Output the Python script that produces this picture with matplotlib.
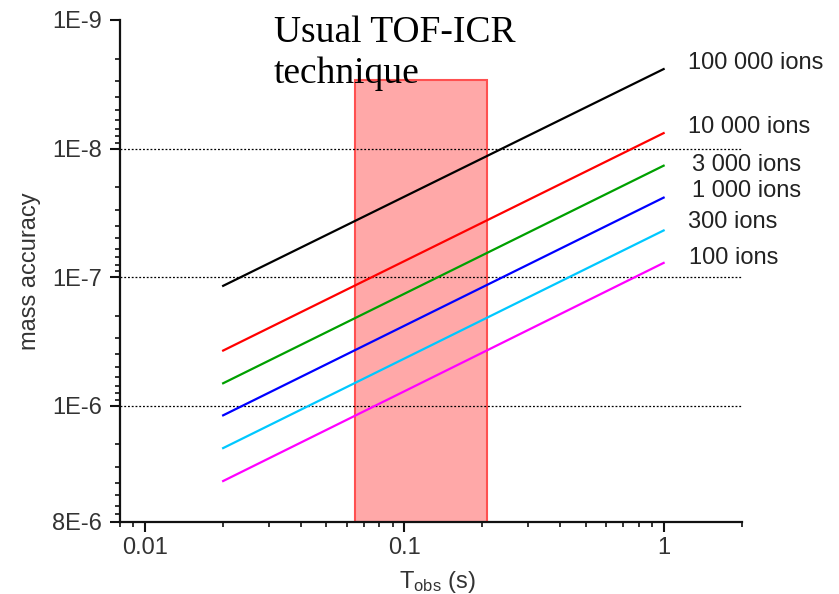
import matplotlib
matplotlib.use("Agg")
import matplotlib.pyplot as plt
from matplotlib.patches import Rectangle
from matplotlib.ticker import LogLocator, FixedLocator, FixedFormatter, NullFormatter

plt.rcParams['font.family'] = ['Liberation Sans', 'DejaVu Sans']
plt.rcParams['mathtext.default'] = 'regular'

# data: accuracy at T = 0.02 s and T = 1 s
t_obs = [0.02, 1.0]
ion_labels = ["100 000 ions", "10 000 ions", "3 000 ions", "1 000 ions", "300 ions", "100 ions"]
colors = ["black", "#ff0000", "#00a000", "#0000ff", "#00c8ff", "#ff00ff"]
acc_start = [1.17e-7, 3.73e-7, 6.7e-7, 1.19e-6, 2.14e-6, 3.86e-6]
acc_end = [2.41e-9, 7.59e-9, 1.36e-8, 2.41e-8, 4.34e-8, 7.76e-8]
label_y = [2.16e-9, 6.78e-9, 1.34e-8, 2.13e-8, 3.72e-8, 7.06e-8]
label_x = [1.243, 1.243, 1.288, 1.288, 1.243, 1.25]

# usual TOF-ICR window
tof_x = (0.0643, 0.2086)
tof_top = 2.92e-9

y_ticks = [1e-9, 1e-8, 1e-7, 1e-6, 8e-6]
y_ticklabels = ["1E-9", "1E-8", "1E-7", "1E-6", "8E-6"]
grid_y = [1e-8, 1e-7, 1e-6]

fig = plt.figure(figsize=(8.39, 5.94), dpi=100)
ax = fig.add_axes([0.143, 0.1217, 0.741, 0.8447])

ax.set_xscale("log")
ax.set_yscale("log")
ax.set_xlim(0.008, 2.0)
ax.set_ylim(8e-6, 1e-9)

ax.add_patch(Rectangle((tof_x[0], tof_top), tof_x[1] - tof_x[0], 8e-6 - tof_top,
                       facecolor="#ffa8a8", edgecolor="#ff5050", linewidth=1.5, zorder=1))

for gy in grid_y:
    ax.axhline(gy, color="black", linestyle=(0, (1.5, 1.5)), linewidth=0.9, zorder=2)

for i in range(len(ion_labels)):
    ax.plot(t_obs, [acc_start[i], acc_end[i]], color=colors[i], linewidth=1.6, zorder=3)
    ax.text(label_x[i], label_y[i], ion_labels[i], fontsize=17, ha="left", va="center",
            color="#222222", clip_on=False)

serif = ["Liberation Serif", "DejaVu Serif"]
ax.text(0.0314, 1.48e-9, "Usual TOF-ICR", family=serif, fontsize=27,
        ha="left", va="baseline", color="black", zorder=4)
ax.text(0.0314, 3.09e-9, "technique", family=serif, fontsize=27,
        ha="left", va="baseline", color="black", zorder=4)

ax.yaxis.set_major_locator(FixedLocator(y_ticks))
ax.yaxis.set_major_formatter(FixedFormatter(y_ticklabels))
ax.yaxis.set_minor_locator(LogLocator(base=10, subs=range(2, 10)))
ax.yaxis.set_minor_formatter(NullFormatter())
ax.xaxis.set_major_locator(FixedLocator([0.01, 0.1, 1]))
ax.xaxis.set_major_formatter(FixedFormatter(["0.01", "0.1", "1"]))
ax.xaxis.set_minor_locator(LogLocator(base=10, subs=range(2, 10)))
ax.xaxis.set_minor_formatter(NullFormatter())

for s in ["top", "right"]:
    ax.spines[s].set_visible(False)
for s in ["left", "bottom"]:
    ax.spines[s].set_linewidth(1.6)
    ax.spines[s].set_color("#111111")

ax.tick_params(which="major", length=7, width=1.5, labelsize=17, colors="#111111", labelcolor="#333333")
ax.tick_params(which="minor", length=3.6, width=1.2, colors="#111111")
ax.tick_params(axis="y", which="major", pad=6)
ax.tick_params(axis="x", which="major", pad=4)

ax.set_xlabel("T$_{obs}$ (s)", fontsize=17, color="#333333")
ax.set_ylabel("mass accuracy", fontsize=17, color="#333333")
ax.xaxis.set_label_coords(0.511, -0.094)
ax.yaxis.set_label_coords(-0.127, 0.5)

fig.savefig("out.png", dpi=100)
